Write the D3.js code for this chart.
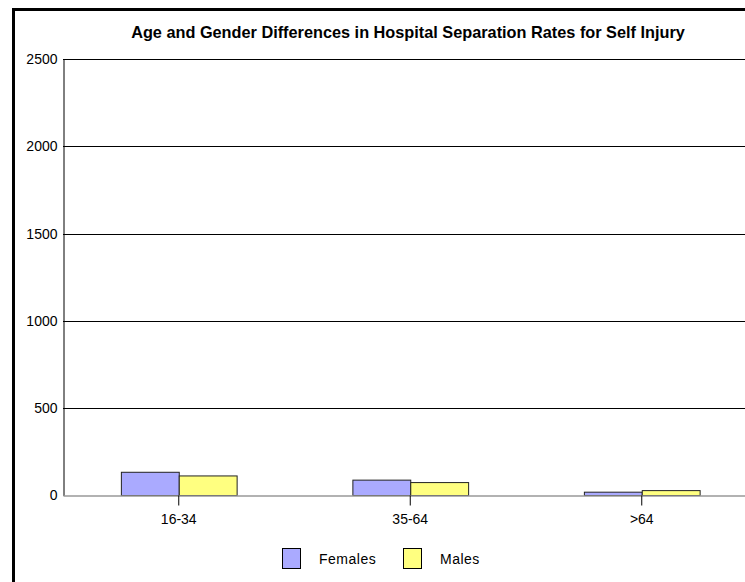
<!DOCTYPE html>
<html>
<head>
<meta charset="utf-8">
<script src="https://cdn.jsdelivr.net/npm/d3@7"></script>
<style>
  body { margin: 0; background: #fff; }
  svg { display: block; font-family: "Liberation Sans", Arial, sans-serif; }
</style>
</head>
<body>
<svg id="chart" width="745" height="582"></svg>
<script>
const categories = ['16-34', '35-64', '>64'];
const seriesNames = ['Females', 'Males'];
const females = [133, 88, 19];
const males = [112, 74, 28];
const yTicks = [0, 500, 1000, 1500, 2000, 2500];
const colors = ['#aaaaff', '#ffff80'];

const svg = d3.select('#chart');

// outer frame
svg.append('path')
  .attr('d', 'M13.5,582 V9.5 H745')
  .attr('fill', 'none')
  .attr('stroke', '#000')
  .attr('stroke-width', 3);

const plotLeft = 63;
const plotTop = 59;
const plotBottom = 495.5;
const step = 231.5;

const x = d3.scaleBand()
  .domain(categories)
  .range([plotLeft, plotLeft + step * categories.length])
  .paddingInner(0)
  .paddingOuter(0);

const xSub = d3.scaleBand()
  .domain(seriesNames)
  .range([x.bandwidth() / 4, x.bandwidth() * 3 / 4]);

const y = d3.scaleLinear().domain([0, 2500]).range([plotBottom, plotTop]);

svg.append('text')
  .attr('x', 408)
  .attr('y', 38)
  .attr('text-anchor', 'middle')
  .attr('font-size', 16.3)
  .attr('font-weight', 'bold')
  .text('Age and Gender Differences in Hospital Separation Rates for Self Injury');

// gridlines
svg.append('g')
  .selectAll('line')
  .data(yTicks.filter(t => t > 0))
  .join('line')
  .attr('x1', plotLeft)
  .attr('x2', 745)
  .attr('y1', d => Math.round(y(d)) + 0.5)
  .attr('y2', d => Math.round(y(d)) + 0.5)
  .attr('stroke', '#000');

// y axis
const yAxis = svg.append('g')
  .attr('transform', `translate(${plotLeft + 0.5},0)`)
  .call(d3.axisLeft(y).tickValues(yTicks).tickFormat(d3.format('d')).tickSize(0).tickPadding(6));
yAxis.select('.domain').attr('stroke', '#000');
yAxis.selectAll('text')
  .attr('font-size', 14)
  .attr('font-family', '"Liberation Sans", Arial, sans-serif')
  .attr('fill', '#000');

const rows = categories.map((c, i) => ({ cat: c, values: [females[i], males[i]] }));

const groups = svg.append('g')
  .selectAll('g')
  .data(rows)
  .join('g')
  .attr('transform', d => `translate(${x(d.cat)},0)`);

groups.selectAll('rect')
  .data(d => d.values.map((v, j) => ({ name: seriesNames[j], value: v, j })))
  .join('rect')
  .attr('x', d => xSub(d.name) + 0.5)
  .attr('width', xSub.bandwidth())
  .attr('y', d => y(d.value))
  .attr('height', d => y(0) - y(d.value))
  .attr('fill', d => colors[d.j])
  .attr('stroke', '#222');

// x axis baseline and ticks
const xAxis = svg.append('g')
  .attr('transform', `translate(0,${plotBottom})`)
  .call(d3.axisBottom(x).tickSize(10).tickSizeOuter(0).tickPadding(9));
xAxis.select('.domain').attr('stroke', '#999').attr('stroke-width', 1.5);
xAxis.selectAll('.tick line').attr('stroke', '#000');
xAxis.selectAll('text')
  .attr('font-size', 14)
  .attr('font-family', '"Liberation Sans", Arial, sans-serif')
  .attr('fill', '#000');

// legend
const legendX = [282, 403];
const legend = svg.append('g')
  .selectAll('g')
  .data(seriesNames)
  .join('g')
  .attr('transform', (d, i) => `translate(${legendX[i]},548)`);
legend.append('rect')
  .attr('x', 0.5).attr('y', 0.5)
  .attr('width', 18).attr('height', 20)
  .attr('fill', (d, i) => colors[i])
  .attr('stroke', '#000');
legend.append('text')
  .attr('x', 37)
  .attr('y', 16)
  .attr('font-size', 14)
  .attr('letter-spacing', 0.5)
  .text(d => d);
</script>
</body>
</html>
